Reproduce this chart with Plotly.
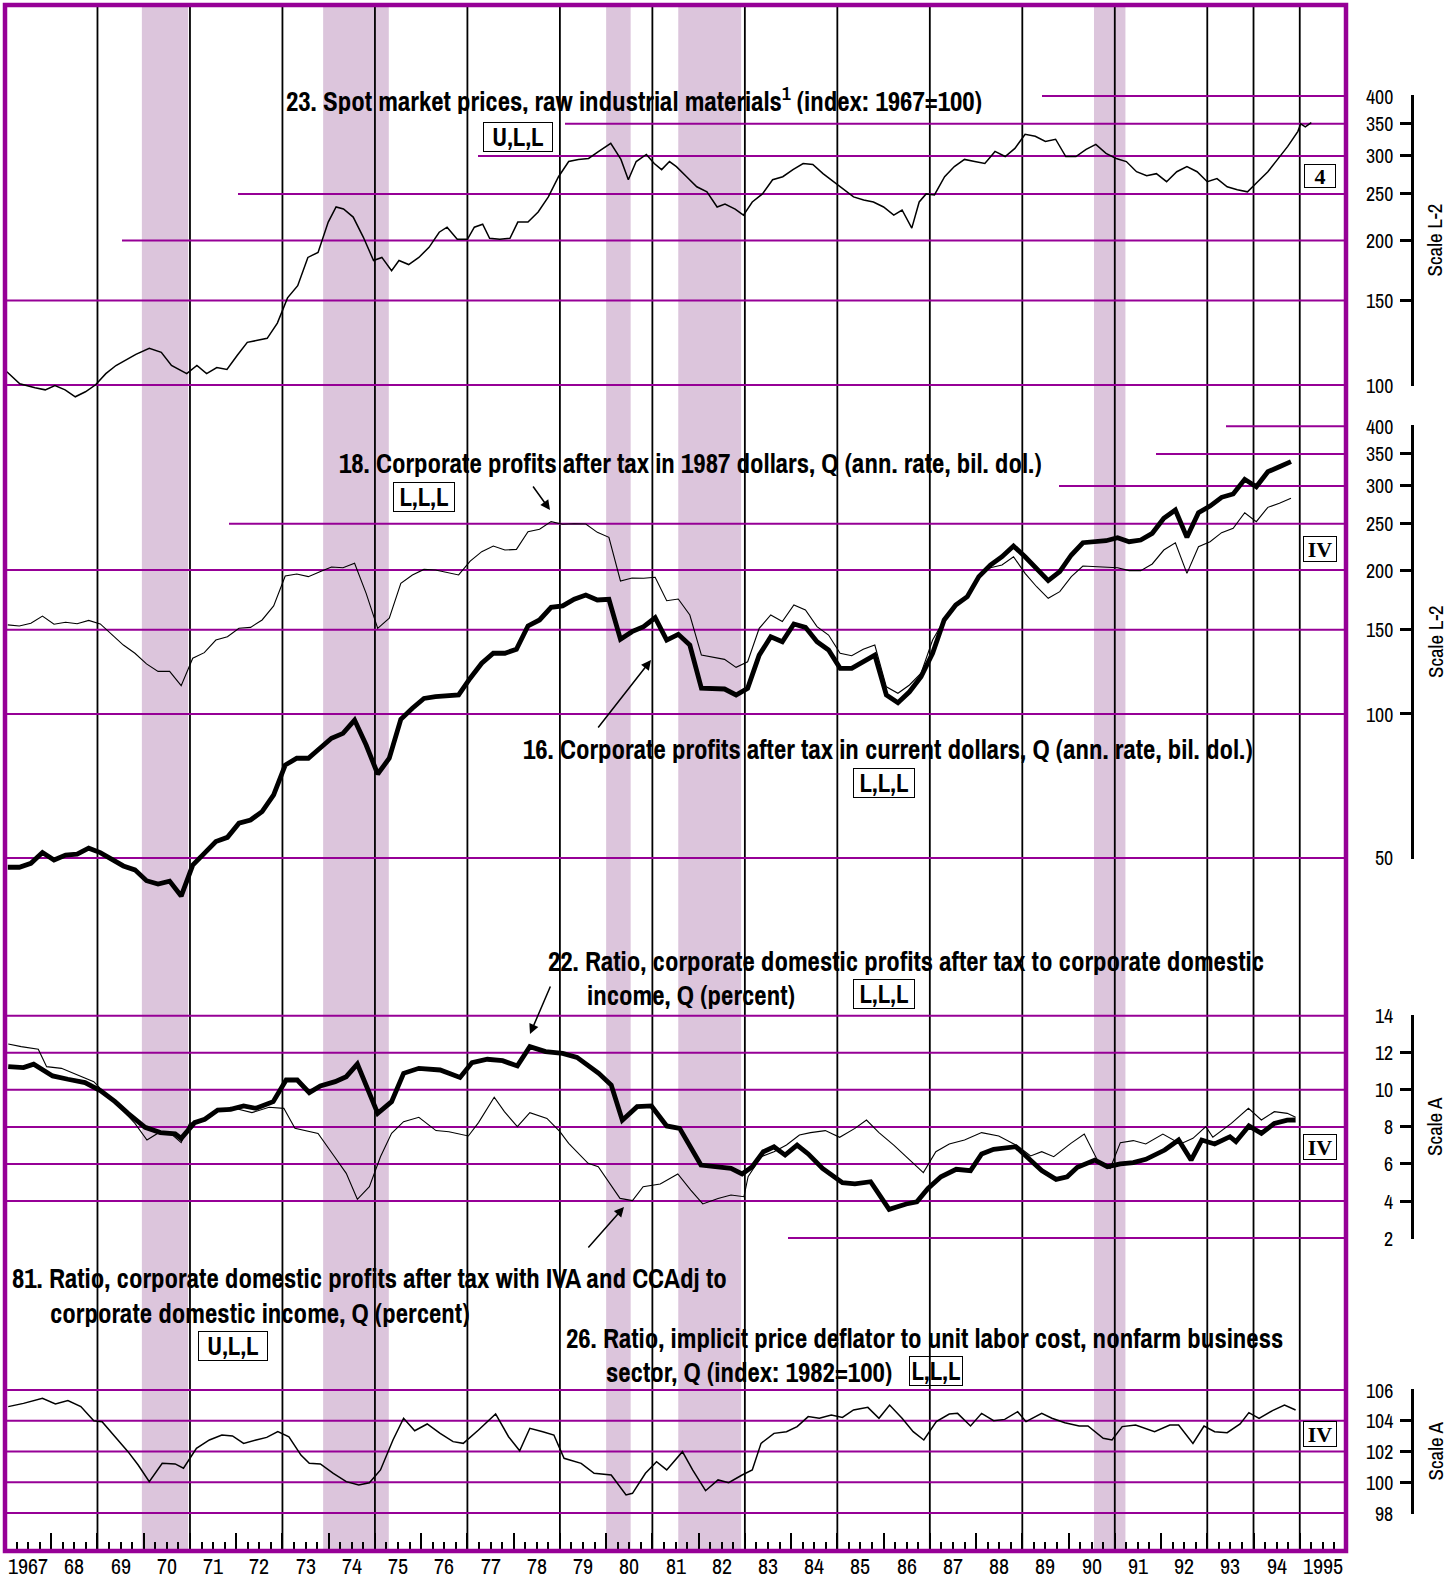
import math
import plotly.graph_objects as go

# ------------------------------------------------------------------ data
S23_YEAR = [1967.04, 1967.32, 1967.65, 1967.87, 1968.08, 1968.30, 1968.52, 1968.74, 1968.96, 1969.18,
            1969.40, 1969.61, 1969.83, 1970.12, 1970.38, 1970.60, 1970.93, 1971.15, 1971.36, 1971.58,
            1971.80, 1972.02, 1972.24, 1972.46, 1972.67, 1972.89, 1973.11, 1973.33, 1973.55, 1973.77,
            1973.99, 1974.16, 1974.32, 1974.53, 1974.75, 1974.97, 1975.15, 1975.36, 1975.52, 1975.73,
            1975.95, 1976.17, 1976.39, 1976.56, 1976.78, 1977.00, 1977.15, 1977.33, 1977.48, 1977.70,
            1977.92, 1978.09, 1978.31, 1978.53, 1978.75, 1978.97, 1979.19, 1979.40, 1979.62, 1979.84,
            1980.10, 1980.32, 1980.48, 1980.65, 1980.87, 1981.04, 1981.20, 1981.37, 1981.52, 1981.74,
            1981.96, 1982.18, 1982.40, 1982.57, 1982.79, 1982.97, 1983.16, 1983.38, 1983.60, 1983.82,
            1984.04, 1984.26, 1984.47, 1984.69, 1984.91, 1985.13, 1985.35, 1985.57, 1985.78, 1986.00,
            1986.22, 1986.40, 1986.61, 1986.77, 1986.92, 1987.10, 1987.32, 1987.53, 1987.75, 1987.97,
            1988.19, 1988.41, 1988.63, 1988.84, 1989.06, 1989.28, 1989.50, 1989.72, 1989.94, 1990.16,
            1990.38, 1990.59, 1990.81, 1991.03, 1991.25, 1991.47, 1991.69, 1991.90, 1992.12, 1992.34,
            1992.56, 1992.78, 1993.00, 1993.21, 1993.43, 1993.65, 1993.87, 1994.09, 1994.31, 1994.52,
            1994.74, 1994.96, 1995.02, 1995.12, 1995.25]
S23_VALUE = [106.6, 100.6, 98.7, 97.7, 99.7, 97.7, 94.5, 96.8, 100.1, 105.6,
             109.8, 112.5, 115.8, 119.2, 117.0, 109.8, 105.6, 109.8, 105.6, 108.7,
             107.7, 115.2, 122.7, 123.9, 125.1, 134.6, 151.9, 161.0, 184.4, 188.9,
             218.5, 234.9, 232.6, 223.8, 203.1, 181.7, 184.4, 173.1, 181.7, 178.2,
             184.4, 193.5, 208.1, 213.2, 201.2, 201.2, 213.2, 216.3, 202.2, 201.2,
             202.2, 218.5, 218.5, 229.3, 246.5, 271.6, 292.1, 295.1, 296.5, 306.6,
             318.7, 295.1, 267.7, 292.1, 302.2, 289.3, 281.0, 292.1, 285.1, 271.6,
             258.8, 252.6, 234.9, 238.3, 232.6, 225.9, 240.6, 250.1, 267.7, 271.6,
             281.0, 289.3, 287.9, 275.6, 265.2, 255.1, 246.5, 243.0, 240.6, 234.9,
             225.9, 231.5, 212.2, 240.6, 250.1, 248.9, 271.6, 285.1, 295.1, 292.1,
             289.3, 306.6, 299.2, 311.1, 332.9, 329.7, 321.8, 325.1, 299.2, 299.2,
             309.6, 317.2, 303.7, 296.5, 292.1, 278.2, 272.9, 275.6, 265.2, 278.2,
             285.1, 278.2, 265.2, 269.1, 258.8, 255.1, 252.6, 265.2, 278.2, 295.1,
             314.1, 337.7, 350.0, 345.0, 352.0]

Q_FIRST_YEAR = 1967
S16_VALUE = [47.8, 47.8, 48.7, 51.3, 49.5, 50.7, 50.9, 52.4, 51.3, 49.7,
             48.1, 47.2, 44.8, 44.1, 44.7, 41.6, 48.3, 51.1, 54.1, 55.2,
             59.1, 60.0, 62.5, 67.7, 78.2, 80.8, 80.8, 84.8, 89.0, 91.1,
             97.1, 86.1, 74.9, 80.8, 97.5, 102.8, 107.8, 108.7, 109.1, 109.6,
             118.8, 127.7, 134.0, 134.0, 136.6, 152.8, 157.3, 167.2, 168.3, 173.8,
             177.4, 173.2, 173.8, 143.3, 148.7, 152.3, 159.0, 142.8, 146.8, 139.4,
             113.2, 113.2, 112.8, 109.6, 113.2, 132.8, 145.1, 141.6, 154.3, 151.8,
             141.6, 136.1, 124.6, 124.6, 128.6, 132.8, 109.6, 105.6, 111.3, 119.7,
             134.0, 157.3, 169.1, 176.0, 193.8, 205.0, 213.3, 224.6, 213.3, 201.7,
             190.1, 198.5, 215.1, 228.2, 229.3, 230.4, 233.8, 229.3, 231.2, 238.8,
             256.7, 267.2, 234.2, 263.7, 272.3, 284.0, 288.6, 309.7, 298.9, 321.3,
             329.1, 337.2]
S18_VALUE = [153.6, 152.8, 154.8, 160.3, 154.1, 155.6, 154.5, 157.0, 154.3, 146.3,
             139.4, 134.0, 127.3, 122.8, 122.8, 114.6, 130.8, 134.4, 142.8, 145.1,
             151.1, 151.8, 157.3, 168.3, 194.4, 196.3, 193.8, 198.5, 203.0, 202.3,
             206.7, 178.8, 151.1, 158.6, 187.7, 195.4, 200.7, 200.1, 197.9, 195.4,
             208.9, 218.6, 224.6, 220.3, 221.0, 240.7, 243.5, 252.6, 249.4, 250.1,
             249.8, 239.9, 234.2, 189.8, 192.5, 192.3, 193.2, 172.6, 174.0, 161.1,
             132.8, 131.4, 130.1, 125.2, 128.6, 151.1, 161.1, 156.1, 169.1, 165.1,
             152.3, 146.3, 134.0, 132.4, 136.6, 139.4, 114.0, 110.5, 115.0, 121.7,
             142.8, 157.3, 168.3, 176.0, 195.4, 202.3, 205.0, 213.3, 196.9, 184.6,
             174.6, 180.3, 193.8, 204.0, 203.3, 202.7, 202.3, 199.5, 199.5, 206.0,
             220.3, 228.2, 196.9, 223.9, 229.3, 239.5, 244.6, 263.7, 252.6, 270.6,
             275.9, 282.7]

S22_YEAR = [1967.07, 1967.40, 1967.62, 1967.77, 1968.03, 1968.36, 1968.73, 1969.07, 1969.38, 1969.66,
            1970.03, 1970.36, 1970.68, 1970.81, 1971.10, 1971.32, 1971.60, 1971.88, 1972.16, 1972.43,
            1972.80, 1973.08, 1973.32, 1973.58, 1973.82, 1974.14, 1974.38, 1974.62, 1975.06, 1975.36,
            1975.62, 1975.95, 1976.41, 1976.84, 1977.10, 1977.43, 1977.76, 1978.08, 1978.35, 1978.69,
            1979.06, 1979.37, 1979.65, 1979.84, 1980.11, 1980.35, 1980.67, 1980.98, 1981.31, 1981.59,
            1982.05, 1982.42, 1982.70, 1982.94, 1983.16, 1983.40, 1983.63, 1983.87, 1984.13, 1984.37,
            1984.68, 1985.11, 1985.38, 1985.72, 1986.12, 1986.49, 1986.72, 1986.96, 1987.24, 1987.57,
            1987.88, 1988.12, 1988.38, 1988.86, 1989.08, 1989.42, 1989.73, 1989.97, 1990.19, 1990.57,
            1990.84, 1991.12, 1991.40, 1991.67, 1992.08, 1992.38, 1992.65, 1992.88, 1993.16, 1993.49,
            1993.62, 1993.90, 1994.17, 1994.45, 1994.73, 1994.91]
S22_VALUE = [11.25, 11.20, 11.38, 11.16, 10.75, 10.57, 10.39, 9.95, 9.36, 8.73,
             7.98, 7.69, 7.62, 7.38, 8.23, 8.41, 8.91, 8.95, 9.13, 9.00,
             9.36, 10.53, 10.53, 9.85, 10.21, 10.44, 10.71, 11.39, 8.73, 9.36,
             10.89, 11.16, 11.07, 10.67, 11.47, 11.65, 11.57, 11.29, 12.33, 12.06,
             11.97, 11.75, 11.25, 10.89, 10.26, 8.36, 9.09, 9.13, 8.05, 7.92,
             5.94, 5.85, 5.76, 5.46, 5.85, 6.66, 6.93, 6.48, 7.02, 6.54,
             5.76, 4.99, 4.92, 5.04, 3.55, 3.84, 3.96, 4.68, 5.31, 5.71,
             5.64, 6.54, 6.79, 6.93, 6.43, 5.64, 5.17, 5.31, 5.82, 6.21,
             5.85, 6.00, 6.07, 6.25, 6.75, 7.29, 6.21, 7.29, 7.08, 7.47,
             7.20, 8.05, 7.65, 8.19, 8.36, 8.37]

S81_YEAR = [1967.07, 1967.35, 1967.72, 1967.90, 1968.22, 1968.64, 1968.92, 1969.20, 1969.47, 1969.81,
            1970.07, 1970.36, 1970.58, 1970.81, 1970.99, 1971.29, 1971.55, 1971.88, 1972.34, 1972.71,
            1973.03, 1973.27, 1973.77, 1974.10, 1974.38, 1974.62, 1974.88, 1975.12, 1975.36, 1975.62,
            1975.95, 1976.32, 1976.60, 1977.02, 1977.24, 1977.58, 1977.80, 1978.08, 1978.35, 1978.72,
            1979.00, 1979.19, 1979.61, 1979.83, 1980.06, 1980.30, 1980.57, 1980.80, 1981.17, 1981.55,
            1981.83, 1982.09, 1982.42, 1982.70, 1982.98, 1983.07, 1983.35, 1983.63, 1983.90, 1984.18,
            1984.42, 1984.74, 1985.05, 1985.38, 1985.63, 1985.90, 1986.22, 1986.49, 1986.86, 1987.13,
            1987.42, 1987.75, 1988.12, 1988.49, 1988.90, 1989.18, 1989.42, 1989.68, 1990.05, 1990.34,
            1990.66, 1990.90, 1991.12, 1991.40, 1991.67, 1992.04, 1992.42, 1992.69, 1992.97, 1993.12,
            1993.52, 1993.89, 1994.17, 1994.45, 1994.73, 1994.91]
S81_VALUE = [12.47, 12.33, 12.19, 11.25, 11.16, 10.71, 10.44, 9.72, 9.09, 8.19,
             7.29, 7.74, 7.65, 7.15, 8.19, 8.36, 8.82, 9.06, 8.77, 9.06,
             9.00, 7.92, 7.65, 6.48, 5.49, 4.09, 4.77, 6.39, 7.65, 8.28,
             8.52, 7.80, 7.74, 7.51, 8.23, 9.60, 8.82, 8.01, 8.77, 8.46,
             7.74, 7.11, 6.03, 5.85, 5.04, 4.14, 4.02, 4.77, 4.92, 5.46,
             4.59, 3.84, 4.14, 4.32, 4.23, 5.31, 6.39, 6.66, 7.02, 7.56,
             7.69, 7.80, 7.44, 7.92, 8.37, 7.69, 7.02, 6.39, 5.53, 6.66,
             7.08, 7.29, 7.69, 7.51, 6.97, 6.43, 6.66, 6.39, 7.11, 7.61,
             6.03, 5.76, 7.15, 7.26, 7.08, 7.61, 7.08, 7.38, 8.01, 7.44,
             8.19, 9.00, 8.37, 8.82, 8.73, 8.52]

S26_YEAR = [1967.07, 1967.40, 1967.81, 1968.09, 1968.36, 1968.64, 1968.92, 1969.10, 1969.38, 1969.66,
            1969.88, 1970.12, 1970.40, 1970.68, 1970.86, 1971.14, 1971.42, 1971.69, 1971.92, 1972.16,
            1972.43, 1972.66, 1972.90, 1973.14, 1973.40, 1973.58, 1973.82, 1974.10, 1974.38, 1974.65,
            1974.88, 1975.12, 1975.39, 1975.62, 1975.86, 1976.13, 1976.41, 1976.69, 1976.91, 1977.24,
            1977.61, 1977.89, 1978.13, 1978.35, 1978.63, 1978.87, 1979.09, 1979.46, 1979.74, 1980.11,
            1980.43, 1980.57, 1980.85, 1981.09, 1981.31, 1981.65, 1981.87, 1982.15, 1982.42, 1982.65,
            1982.94, 1983.16, 1983.35, 1983.63, 1983.90, 1984.13, 1984.37, 1984.61, 1984.87, 1985.11,
            1985.35, 1985.66, 1985.90, 1986.13, 1986.40, 1986.64, 1986.87, 1987.14, 1987.42, 1987.60,
            1987.88, 1988.12, 1988.38, 1988.62, 1988.90, 1989.08, 1989.42, 1989.64, 1989.92, 1990.23,
            1990.42, 1990.75, 1990.94, 1991.16, 1991.45, 1991.86, 1992.19, 1992.38, 1992.69, 1992.93,
            1993.16, 1993.43, 1993.71, 1993.90, 1994.12, 1994.41, 1994.67, 1994.91]
S26_VALUE = [104.92, 105.13, 105.46, 105.09, 105.31, 104.92, 104.00, 103.94, 102.96, 101.99,
             101.12, 100.04, 101.23, 101.19, 100.91, 102.21, 102.75, 103.07, 103.01, 102.53,
             102.75, 102.92, 103.29, 102.96, 101.77, 101.23, 101.19, 100.58, 100.04, 99.82,
             99.97, 100.80, 102.75, 104.16, 103.35, 103.79, 103.18, 102.64, 102.53, 103.40,
             104.44, 102.96, 102.05, 103.51, 103.29, 103.07, 101.56, 101.23, 100.58, 100.47,
             99.17, 99.28, 100.58, 101.34, 100.80, 101.99, 100.80, 99.45, 100.15, 99.97,
             100.47, 100.80, 102.53, 103.18, 103.29, 103.62, 104.27, 104.16, 104.37, 104.22,
             104.70, 104.87, 104.16, 105.02, 104.16, 103.29, 102.75, 103.94, 104.44, 104.48,
             103.66, 104.48, 104.00, 104.09, 104.59, 103.94, 104.48, 104.16, 103.87, 103.66,
             103.66, 102.86, 102.75, 103.62, 103.72, 103.29, 103.72, 103.72, 102.53, 103.66,
             103.29, 103.22, 103.79, 104.53, 104.16, 104.66, 105.02, 104.70]

RECESSIONS = [(1969.96, 1970.96), (1973.88, 1975.30), (1980.00, 1980.53),
              (1981.56, 1982.92), (1990.55, 1991.23)]
BLACK_LINE_YEARS = [1969, 1971, 1973, 1975, 1977, 1979, 1981, 1983, 1985,
                    1987, 1989, 1991, 1993, 1994, 1995]
YEAR_LABELS = ["1967", "68", "69", "70", "71", "72", "73", "74", "75", "76", "77",
               "78", "79", "80", "81", "82", "83", "84", "85", "86", "87", "88",
               "89", "90", "91", "92", "93", "94", "1995"]
LOG_TICKS_TOP = [100, 150, 200, 250, 300, 350, 400]
LOG_TICKS_MID = [50, 100, 150, 200, 250, 300, 350, 400]
A_TICKS_3 = [2, 4, 6, 8, 10, 12, 14]
A_TICKS_4 = [98, 100, 102, 104, 106]

# ------------------------------------------------------------------ geometry / style
W, H = 1456, 1583
ML, MR, MT, MB = 5, 44, 5, 32
PW, PH = W - ML - MR, H - MT - MB
FRAME_RIGHT = 1346
XD = (FRAME_RIGHT - ML) / PW
X0, X1 = 1967, 1996
TOP, BOT = MT, MT + PH

PURPLE = "#960096"
SHADE = "#dcc5dc"
NARROW = "Archivo Narrow, Barlow Condensed, DejaVu Sans Condensed, sans-serif"
SERIF = "Liberation Serif, Times New Roman, serif"


def fx(px):
    return (px - ML) / PW


def fy(py):
    return (BOT - py) / PH


def px_year(px):
    return X0 + (px - ML) / (FRAME_RIGHT - ML) * (X1 - X0)


P1 = dict(ref=100, ref_px=385.0, ppu=480.0)
P2 = dict(ref=100, ref_px=714.0, ppu=478.0)
P3 = dict(ref=14, ref_px=1015.7, ppu=18.53)
P4 = dict(ref=106, ref_px=1390.0, ppu=15.375)


def log_px(p, v):
    return p["ref_px"] - (math.log10(v) - math.log10(p["ref"])) * p["ppu"]


def lin_px(p, v):
    return p["ref_px"] - (v - p["ref"]) * p["ppu"]


def log_full_range(p):
    r = math.log10(p["ref"])
    return [r + (p["ref_px"] - BOT) / p["ppu"], r + (p["ref_px"] - TOP) / p["ppu"]]


def lin_full_range(p):
    return [p["ref"] + (p["ref_px"] - BOT) / p["ppu"], p["ref"] + (p["ref_px"] - TOP) / p["ppu"]]


def disp_axis(p, lo, hi, is_log, tickvals):
    pad = 1.0
    if is_log:
        y_lo, y_hi = log_px(p, lo), log_px(p, hi)
        rng = [math.log10(lo) - pad / p["ppu"], math.log10(hi) + pad / p["ppu"]]
    else:
        y_lo, y_hi = lin_px(p, lo), lin_px(p, hi)
        rng = [lo - pad / p["ppu"], hi + pad / p["ppu"]]
    return dict(domain=[fy(y_lo + pad), fy(y_hi - pad)], range=rng,
                type="log" if is_log else "linear",
                anchor="free", position=1.0, side="right",
                showline=True, linecolor="black", linewidth=3,
                ticks="inside", ticklen=11, tickwidth=3, tickcolor="black",
                tickvals=tickvals, showticklabels=False,
                showgrid=False, zeroline=False, automargin=False, fixedrange=True)


fig = go.Figure()
qx = [Q_FIRST_YEAR + i * 0.25 + 0.06 for i in range(len(S16_VALUE))]

fig.add_trace(go.Scatter(x=S23_YEAR, y=S23_VALUE, mode="lines", yaxis="y",
                         line=dict(color="black", width=1.5), hoverinfo="skip"))
fig.add_trace(go.Scatter(x=qx, y=S18_VALUE, mode="lines", yaxis="y2",
                         line=dict(color="black", width=1.1), hoverinfo="skip"))
fig.add_trace(go.Scatter(x=qx, y=S16_VALUE, mode="lines", yaxis="y2",
                         line=dict(color="black", width=4.8), hoverinfo="skip"))
fig.add_trace(go.Scatter(x=S81_YEAR, y=S81_VALUE, mode="lines", yaxis="y3",
                         line=dict(color="black", width=1.1), hoverinfo="skip"))
fig.add_trace(go.Scatter(x=S22_YEAR, y=S22_VALUE, mode="lines", yaxis="y3",
                         line=dict(color="black", width=4.8), hoverinfo="skip"))
fig.add_trace(go.Scatter(x=S26_YEAR, y=S26_VALUE, mode="lines", yaxis="y4",
                         line=dict(color="black", width=1.5), hoverinfo="skip"))
for ax in ["y5", "y6", "y7", "y8"]:
    fig.add_trace(go.Scatter(x=[None], y=[None], yaxis=ax, mode="lines",
                             hoverinfo="skip", showlegend=False))

# ------------------------------------------------------------------ shapes
shapes = []
for a, b in RECESSIONS:
    shapes.append(dict(type="rect", xref="x", yref="paper", x0=a, x1=b, y0=0, y1=1,
                       fillcolor=SHADE, line=dict(width=0), layer="below"))
for yr in BLACK_LINE_YEARS:
    shapes.append(dict(type="line", xref="x", yref="paper", x0=yr, x1=yr, y0=0, y1=1,
                       line=dict(color="black", width=1.8), layer="below"))

GRID = [("y", 400, 1042), ("y", 350, 565), ("y", 300, 478), ("y", 250, 238),
        ("y", 200, 122), ("y", 150, ML), ("y", 100, ML),
        ("y2", 400, 1226), ("y2", 350, 1156), ("y2", 300, 1059), ("y2", 250, 229),
        ("y2", 200, ML), ("y2", 150, ML), ("y2", 100, ML), ("y2", 50, ML),
        ("y3", 14, ML), ("y3", 12, ML), ("y3", 10, ML), ("y3", 8, ML), ("y3", 6, ML),
        ("y3", 4, ML), ("y3", 2, 788),
        ("y4", 106, ML), ("y4", 104, ML), ("y4", 102, ML), ("y4", 100, ML), ("y4", 98, ML)]
for ax, v, start in GRID:
    shapes.append(dict(type="line", xref="x", yref=ax, x0=px_year(start), x1=X1,
                       y0=v, y1=v, line=dict(color=PURPLE, width=2), layer="below"))

shapes.append(dict(type="rect", xref="paper", yref="paper", x0=0, x1=XD, y0=0, y1=1,
                   line=dict(color=PURPLE, width=4.5), fillcolor="rgba(0,0,0,0)",
                   layer="above"))

# ------------------------------------------------------------------ annotations
ann = []
TITLES = [
    ("23. Spot market prices, raw industrial materials<sup>1</sup> (index: 1967=100)", 285, 99),
    ("18. Corporate profits after tax in 1987 dollars, Q (ann. rate, bil. dol.)", 338, 463),
    ("16. Corporate profits after tax in current dollars, Q (ann. rate, bil. dol.)", 522, 748),
    ("22. Ratio, corporate domestic profits after tax to corporate domestic", 547, 960),
    ("income, Q (percent)", 586, 994),
    ("81. Ratio, corporate domestic profits after tax with IVA and CCAdj to", 11, 1277),
    ("corporate domestic income, Q (percent)", 49, 1312),
    ("26. Ratio, implicit price deflator to unit labor cost, nonfarm business", 565, 1337),
    ("sector, Q (index: 1982=100)", 605, 1371),
]
for t, x, y in TITLES:
    ann.append(dict(text="<b>" + t + "</b>", x=fx(x), y=fy(y), xref="paper", yref="paper",
                    xanchor="left", yanchor="middle", showarrow=False, height=29,
                    valign="middle", borderpad=0,
                    font=dict(family=NARROW, size=27, color="black")))

BOXES = [
    ("U,L,L", 518, 137, 70, 30, NARROW, 25),
    ("L,L,L", 424, 497, 62, 30, NARROW, 25),
    ("L,L,L", 884, 783, 62, 30, NARROW, 25),
    ("L,L,L", 884, 994, 62, 30, NARROW, 25),
    ("U,L,L", 233, 1346, 70, 30, NARROW, 25),
    ("L,L,L", 936, 1371, 54, 30, NARROW, 25),
    ("4", 1320, 176, 32, 24, SERIF, 22),
    ("IV", 1320, 549, 34, 26, SERIF, 22),
    ("IV", 1320, 1147, 34, 26, SERIF, 22),
    ("IV", 1320, 1434, 34, 26, SERIF, 22),
]
for t, x, y, w, h, fam, sz in BOXES:
    ann.append(dict(text="<b>" + t + "</b>", x=fx(x), y=fy(y), xref="paper", yref="paper",
                    xanchor="center", yanchor="middle", showarrow=False,
                    width=w - 2, height=h - 2, borderpad=0, borderwidth=1,
                    bordercolor="black", align="center", valign="middle",
                    font=dict(family=fam, size=sz, color="black")))

ARROWS = [((550, 510), (532, 485)), ((651, 660), (597, 729)),
          ((530, 1034), (551, 985)), ((624, 1207), (587, 1249))]
for (hx, hy), (tx, ty) in ARROWS:
    ann.append(dict(text="", x=fx(hx), y=fy(hy), xref="paper", yref="paper",
                    ax=tx - hx, ay=ty - hy, showarrow=True, arrowhead=2,
                    arrowsize=1.3, arrowwidth=1.5, arrowcolor="black"))

for i, lab in enumerate(YEAR_LABELS):
    ann.append(dict(text=lab, x=X0 + i + 0.5, y=fy(1583), xref="x", yref="paper",
                    xanchor="center", yanchor="bottom", showarrow=False,
                    font=dict(family=NARROW, size=22, color="black")))

TICK_X = fx(1395)
for ax, ticks, is_log in [("y", LOG_TICKS_TOP, True), ("y2", LOG_TICKS_MID, True),
                          ("y3", A_TICKS_3, False), ("y4", A_TICKS_4, False)]:
    for v in ticks:
        ann.append(dict(text=str(v), x=TICK_X, y=math.log10(v) if is_log else v,
                        xref="paper", yref=ax, xanchor="right", yanchor="middle",
                        showarrow=False, font=dict(family=NARROW, size=20, color="black")))
for ax, lo, hi, is_log, title in [("y", 100, 400, True, "Scale L-2"),
                                  ("y2", 50, 400, True, "Scale L-2"),
                                  ("y3", 2, 14, False, "Scale A"),
                                  ("y4", 98, 106, False, "Scale A")]:
    mid = (math.log10(lo) + math.log10(hi)) / 2 if is_log else (lo + hi) / 2
    ann.append(dict(text=title, x=fx(1435), y=mid, xref="paper", yref=ax,
                    xanchor="center", yanchor="middle", textangle=-90, showarrow=False,
                    font=dict(family=NARROW, size=21, color="black")))

hidden = dict(visible=False, showgrid=False, zeroline=False, fixedrange=True)
fig.update_layout(
    width=W, height=H,
    margin=dict(l=ML, r=MR, t=MT, b=MB, pad=0, autoexpand=False),
    paper_bgcolor="white", plot_bgcolor="rgba(0,0,0,0)",
    showlegend=False,
    xaxis=dict(domain=[0, XD], range=[X0, X1], anchor="y",
               showgrid=False, zeroline=False, showline=False,
               ticks="inside", ticklen=18, tickwidth=2, tickcolor="black",
               tick0=X0, dtick=1, showticklabels=False, fixedrange=True,
               minor=dict(ticks="inside", ticklen=9, tickwidth=2, tickcolor="black",
                          tick0=X0, dtick=0.25, showgrid=False)),
    yaxis=dict(domain=[0, 1], type="log", range=log_full_range(P1), **hidden),
    yaxis2=dict(overlaying="y", type="log", range=log_full_range(P2), **hidden),
    yaxis3=dict(overlaying="y", type="linear", range=lin_full_range(P3), **hidden),
    yaxis4=dict(overlaying="y", type="linear", range=lin_full_range(P4), **hidden),
    yaxis5=disp_axis(P1, 100, 400, True, LOG_TICKS_TOP),
    yaxis6=disp_axis(P2, 50, 400, True, LOG_TICKS_MID),
    yaxis7=disp_axis(P3, 2, 14, False, A_TICKS_3),
    yaxis8=disp_axis(P4, 98, 106, False, A_TICKS_4),
    shapes=shapes,
    annotations=ann,
)

fig.write_html("out.html", config={"displayModeBar": False},
               post_script="document.body.style.margin='0px';")
